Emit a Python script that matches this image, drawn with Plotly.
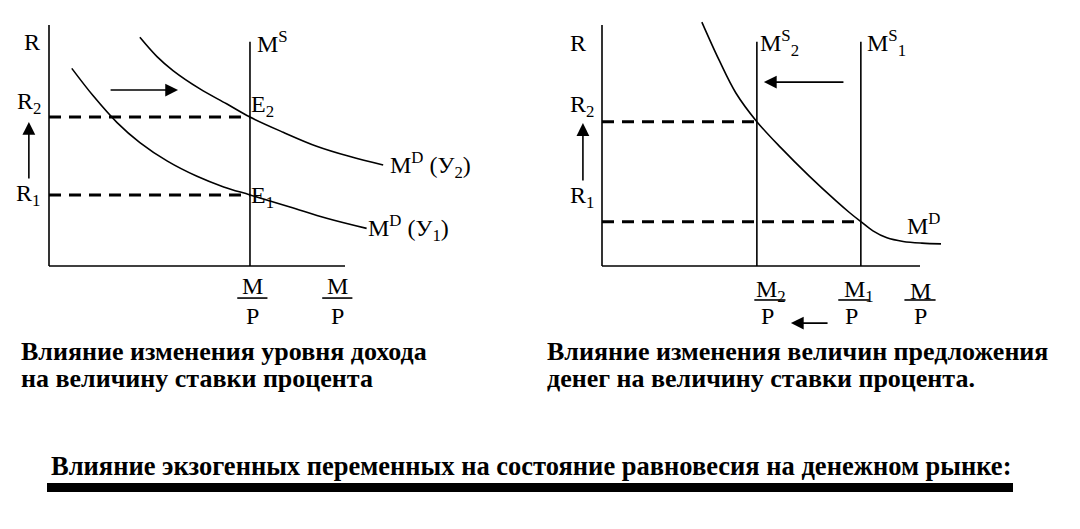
import plotly.graph_objects as go

# ---------------- data (panel units) ----------------
# Left panel: change of income
L_AXIS_LEN = 10.0
L_MS_X = 6.79
L_MS_TOP = 9.3
L_R2 = 6.18
L_R1 = 2.95
l_md2_x = [3.07, 3.64, 4.20, 5.10, 6.00, 6.79, 7.91, 9.04, 10.17, 11.29]
l_md2_y = [9.49, 8.70, 8.10, 7.35, 6.73, 6.18, 5.55, 4.97, 4.54, 4.19]
l_md1_x = [0.77, 1.50, 2.30, 3.07, 4.00, 5.00, 5.90, 6.79, 8.14, 9.38, 10.73]
l_md1_y = [8.20, 7.05, 5.95, 5.12, 4.35, 3.72, 3.28, 2.95, 2.45, 1.98, 1.56]
l_tick_x = [6.87, 9.74]
l_tick_num = ["M", "M"]
l_tick_den = ["P", "P"]

# Right panel: change of money supply
R_AXIS_LEN = 10.0
R_MS2_X = 4.87
R_MS1_X = 8.14
R_MS_TOP = 9.3
R_R2 = 5.99
R_R1 = 1.84
r_md_x = [3.14, 3.68, 4.21, 4.87, 5.63, 6.51, 7.36, 7.77, 8.14, 8.52, 8.96, 9.47, 10.06, 10.66]
r_md_y = [10.12, 8.55, 7.18, 5.99, 4.90, 3.74, 2.70, 2.23, 1.84, 1.46, 1.17, 1.02, 0.95, 0.92]
r_tick_bar_x = [5.28, 7.92, 10.0]
r_tick_num_x = [5.31, 8.08, 10.0]
r_tick_den_x = [5.19, 7.86, 10.0]
r_tick_num = ["M<sub>2</sub>", "M<sub>1</sub>", "M"]
r_tick_den = ["P", "P", "P"]

caption_left = ["Влияние изменения уровня дохода", "на величину ставки процента"]
caption_right = ["Влияние изменения величин предложения", "денег на величину ставки процента."]
title_bottom = "Влияние экзогенных переменных на состояние равновесия на денежном рынке:"

# ---------------- geometry ----------------
OFF = 8                      # page body margin of the html
W, H = 1080 - 2 * OFF, 529 - 2 * OFF
FONT = "Liberation Serif, Times New Roman, serif"
LW = 1.6
DASH = dict(color="black", width=3, dash="12px,8px")
SOLID = dict(color="black", width=LW)
LBL = 24     # diagram label size
CAP = 26     # caption size

# reference-pixel geometry of each panel: origin px and px per unit
L_OX, L_UX = 49, 29.6
R_OX, R_UX = 602, 31.8
OY, UY = 266, 24.1
SPLIT = 540

def xr(ox, ux, p0, p1):
    return [(p0 - ox) / ux, (p1 - ox) / ux]

yrange = [-(529 - OFF - OY) / UY, (OY - OFF) / UY]
split_frac = (SPLIT - OFF) / W

fig = go.Figure()

def line(xs, ys, ax, style, spline=False):
    st = dict(style)
    if spline:
        st.update(shape="spline", smoothing=1.0)
    fig.add_trace(go.Scatter(x=xs, y=ys, mode="lines", xaxis=ax[0], yaxis=ax[1],
                             line=st, hoverinfo="skip", showlegend=False))

LA = ("x", "y")
RA = ("x2", "y2")

# ---- left panel ----
line([0, 0], [0, L_AXIS_LEN], LA, SOLID)
line([0, L_AXIS_LEN], [0, 0], LA, SOLID)
line([L_MS_X, L_MS_X], [0, L_MS_TOP], LA, SOLID)
line([0, L_MS_X], [L_R2, L_R2], LA, DASH)
line([0, L_MS_X], [L_R1, L_R1], LA, DASH)
line(l_md2_x, l_md2_y, LA, SOLID, True)
line(l_md1_x, l_md1_y, LA, SOLID, True)
for tx in l_tick_x:
    line([tx - 0.51, tx + 0.51], [-1.33, -1.33], LA, SOLID)

# ---- right panel ----
line([0, 0], [0, R_AXIS_LEN], RA, SOLID)
line([0, R_AXIS_LEN], [0, 0], RA, SOLID)
line([R_MS2_X, R_MS2_X], [0, R_MS_TOP], RA, SOLID)
line([R_MS1_X, R_MS1_X], [0, R_MS_TOP], RA, SOLID)
line([0, R_MS2_X], [R_R2, R_R2], RA, DASH)
line([0, R_MS1_X], [R_R1, R_R1], RA, DASH)
line(r_md_x, r_md_y, RA, SOLID, True)
for tx in r_tick_bar_x:
    line([tx - 0.49, tx + 0.49], [-1.41, -1.41], RA, SOLID)

ann = []

def txt(x, y, s, ax, anchor="center", size=LBL):
    ann.append(dict(x=x, y=y, xref=ax[0], yref=ax[1], text=s, showarrow=False,
                    xanchor=anchor, yanchor="middle", borderpad=0,
                    font=dict(family=FONT, size=size, color="black")))

def arrow(x0, y0, x1, y1, ax):
    ann.append(dict(x=x1, y=y1, ax=x0, ay=y0, xref=ax[0], yref=ax[1],
                    axref=ax[0], ayref=ax[1], text="", showarrow=True,
                    arrowhead=2, arrowsize=1.6, arrowwidth=1.6, arrowcolor="black",
                    standoff=0, startstandoff=0))

# left labels
txt(-0.57, 9.29, "R", LA)
txt(7.0, 9.3, "M<sup>S</sup>", LA, "left")
txt(-0.68, 6.76, "R<sub>2</sub>", LA)
txt(-0.71, 2.95, "R<sub>1</sub>", LA)
txt(6.8, 6.64, "E<sub>2</sub>", LA, "left")
txt(6.8, 2.85, "E<sub>1</sub>", LA, "left")
txt(11.5, 4.19, "M<sup>D</sup> (У<sub>2</sub>)", LA, "left")
txt(10.75, 1.58, "M<sup>D</sup> (У<sub>1</sub>)", LA, "left")
for tx, n, d in zip(l_tick_x, l_tick_num, l_tick_den):
    txt(tx, -0.83, n, LA)
    txt(tx, -2.07, d, LA)
arrow(-0.68, 3.57, -0.68, 5.98, LA)
arrow(2.03, 7.30, 4.36, 7.30, LA)

# right labels
txt(-0.75, 9.25, "R", RA)
txt(-0.63, 6.64, "R<sub>2</sub>", RA)
txt(-0.63, 2.86, "R<sub>1</sub>", RA)
txt(4.93, 9.25, "M<sup>S</sup><sub>2</sub>", RA, "left")
txt(8.29, 9.25, "M<sup>S</sup><sub>1</sub>", RA, "left")
txt(9.55, 1.74, "M<sup>D</sup>", RA, "left")
for nx, dx, n, d in zip(r_tick_num_x, r_tick_den_x, r_tick_num, r_tick_den):
    txt(nx, -1.04, n, RA)
    txt(dx, -2.07, d, RA)
arrow(-0.6, 3.49, -0.6, 5.93, RA)
arrow(7.64, 7.63, 5.09, 7.63, RA)
arrow(7.14, -2.37, 5.94, -2.37, RA)

# captions (reference pixels -> paper fraction)
def ptxt(px, py, s, size=CAP, anchor="left"):
    ann.append(dict(x=(px - OFF) / W, y=1 - (py - OFF) / H, xref="paper", yref="paper",
                    text="<b>" + s + "</b>", showarrow=False, xanchor=anchor, yanchor="middle",
                    borderpad=0, font=dict(family=FONT, size=size, color="black")))

ptxt(20, 351, caption_left[0])
ptxt(20, 378, caption_left[1])
ptxt(546, 351, caption_right[0])
ptxt(546, 378, caption_right[1])
ptxt(531, 466, title_bottom, 26.5, "center")

shapes = [dict(type="rect", xref="paper", yref="paper",
               x0=(47 - OFF) / W, x1=(1013 - OFF) / W,
               y0=1 - (492 - OFF) / H, y1=1 - (483 - OFF) / H,
               fillcolor="black", line=dict(width=0))]

axis_common = dict(visible=False, showgrid=False, zeroline=False, fixedrange=True)
fig.update_layout(
    width=W, height=H, margin=dict(l=0, r=0, t=0, b=0),
    paper_bgcolor="white", plot_bgcolor="white",
    xaxis=dict(domain=[0, split_frac], range=xr(L_OX, L_UX, OFF, SPLIT), **axis_common),
    yaxis=dict(domain=[0, 1], range=yrange, **axis_common),
    xaxis2=dict(domain=[split_frac, 1], range=xr(R_OX, R_UX, SPLIT, 1080 - OFF),
                anchor="y2", **axis_common),
    yaxis2=dict(domain=[0, 1], range=yrange, anchor="x2", **axis_common),
    annotations=ann, shapes=shapes, showlegend=False,
)

fig.write_html("out.html")
